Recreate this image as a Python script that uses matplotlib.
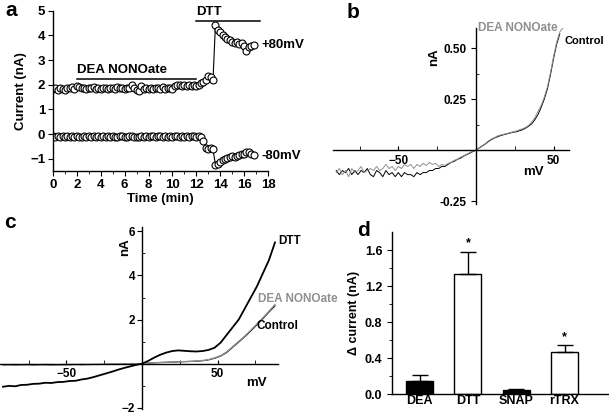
import numpy as np
import matplotlib
matplotlib.use("Agg")
import matplotlib.pyplot as plt
from matplotlib.ticker import FixedLocator

plt.rcParams['font.family'] = ['Liberation Sans', 'DejaVu Sans']
plt.rcParams['font.weight'] = 'bold'
plt.rcParams['axes.linewidth'] = 1.0

# ---- panel a: current vs time (sampled every 0.2 min) ----
dt_min = 0.2
pos80 = [1.82, 1.86, 1.80, 1.88, 1.84, 1.79, 1.87, 1.85, 1.90, 1.83,
         1.95, 1.92, 1.86, 1.88, 1.82, 1.87, 1.85, 1.90, 1.84, 1.86,
         1.83, 1.88, 1.85, 1.82, 1.87, 1.86, 1.84, 1.89, 1.85, 1.87,
         1.83, 1.86, 1.88, 1.98, 1.85, 1.80, 1.75, 1.95, 1.82, 1.86,
         1.84, 1.88, 1.83, 1.87, 1.85, 1.82, 1.89, 1.84, 1.88, 1.86,
         1.83, 1.95, 1.97, 2.00, 1.93, 1.98, 1.95, 2.00, 1.96, 1.99,
         1.95, 2.00, 2.05, 2.10, 2.20, 2.35, 2.30, 2.20,
         4.42, 4.22, 4.12, 4.02, 3.95, 3.86, 3.80, 3.75, 3.70, 3.72,
         3.66, 3.70, 3.58, 3.35, 3.52, 3.56, 3.60]
neg80 = [-0.10, -0.12, -0.09, -0.11, -0.10, -0.12, -0.10, -0.11, -0.09, -0.11,
         -0.10, -0.12, -0.11, -0.10, -0.12, -0.09, -0.11, -0.10, -0.12, -0.10,
         -0.11, -0.10, -0.12, -0.09, -0.11, -0.10, -0.12, -0.11, -0.10, -0.09,
         -0.11, -0.12, -0.10, -0.08, -0.11, -0.13, -0.12, -0.09, -0.11, -0.10,
         -0.12, -0.08, -0.10, -0.11, -0.09, -0.10, -0.12, -0.09, -0.11, -0.10,
         -0.12, -0.10, -0.09, -0.11, -0.10, -0.12, -0.10, -0.11, -0.09, -0.10,
         -0.11, -0.10, -0.12, -0.30, -0.55, -0.60, -0.58, -0.62,
         -1.25, -1.20, -1.12, -1.05, -1.00, -0.97, -0.95, -0.90, -0.92, -0.88,
         -0.85, -0.82, -0.80, -0.75, -0.72, -0.80, -0.85]
time_min = np.arange(len(pos80)) * dt_min

# ---- panel b: I-V, DEA NONOate vs control (every 2 mV) ----
v_b_ctrl = np.arange(-90, 55, 2)
i_b_ctrl = [-0.10, -0.12, -0.10, -0.11, -0.09, -0.12, -0.10, -0.12, -0.10, -0.11,
            -0.09, -0.12, -0.13, -0.10, -0.11, -0.13, -0.10, -0.12, -0.11, -0.13,
            -0.11, -0.13, -0.11, -0.12, -0.12, -0.13, -0.11, -0.12, -0.11, -0.11,
            -0.10, -0.10, -0.09, -0.09, -0.08, -0.08, -0.07, -0.06, -0.055, -0.045,
            -0.04, -0.03, -0.022, -0.015, -0.007, 0.0, 0.01, 0.02, 0.03, 0.042,
            0.052, 0.06, 0.066, 0.072, 0.076, 0.08, 0.084, 0.088, 0.09, 0.095,
            0.10, 0.108, 0.118, 0.13, 0.15, 0.175, 0.21, 0.25, 0.30, 0.37,
            0.45, 0.52, 0.57]
v_b_dea = np.arange(-90, 57, 2)
i_b_dea = [-0.11, -0.09, -0.12, -0.10, -0.13, -0.09, -0.11, -0.10, -0.08, -0.11,
           -0.10, -0.09, -0.10, -0.08, -0.10, -0.09, -0.07, -0.09, -0.08, -0.10,
           -0.08, -0.09, -0.07, -0.08, -0.07, -0.09, -0.07, -0.08, -0.065, -0.075,
           -0.06, -0.07, -0.065, -0.08, -0.07, -0.075, -0.065, -0.06, -0.05, -0.045,
           -0.035, -0.028, -0.02, -0.012, -0.005, 0.0, 0.012, 0.022, 0.032, 0.045,
           0.055, 0.062, 0.07, 0.075, 0.078, 0.082, 0.086, 0.09, 0.094, 0.10,
           0.105, 0.112, 0.122, 0.138, 0.16, 0.19, 0.22, 0.26, 0.31, 0.38,
           0.46, 0.53, 0.58, 0.60]

# ---- panel c: I-V with DTT (every 4 mV) ----
v_c = np.arange(-92, 89, 4)
i_c_dtt = [-1.05, -1.01, -1.03, -0.97, -0.96, -0.92, -0.91, -0.87, -0.88, -0.84,
           -0.83, -0.79, -0.78, -0.72, -0.68, -0.61, -0.53, -0.45, -0.37, -0.28,
           -0.20, -0.13, -0.06, 0.00, 0.12, 0.27, 0.40, 0.50, 0.57, 0.60,
           0.58, 0.56, 0.55, 0.57, 0.62, 0.72, 0.95, 1.30, 1.65, 2.00,
           2.50, 3.00, 3.50, 4.10, 4.70, 5.50]
i_c_ctrl = [-0.06, -0.05, -0.06, -0.05, -0.05, -0.06, -0.05, -0.05, -0.06, -0.05,
            -0.05, -0.05, -0.04, -0.05, -0.04, -0.04, -0.04, -0.03, -0.03, -0.03,
            -0.02, -0.02, -0.01, 0.00, 0.02, 0.04, 0.05, 0.06, 0.07, 0.08,
            0.09, 0.10, 0.11, 0.13, 0.17, 0.24, 0.34, 0.50, 0.74, 0.98,
            1.22, 1.48, 1.76, 2.04, 2.34, 2.62]
i_c_dea = [-0.04, -0.05, -0.04, -0.05, -0.04, -0.04, -0.05, -0.04, -0.04, -0.05,
           -0.04, -0.04, -0.04, -0.03, -0.04, -0.03, -0.03, -0.03, -0.02, -0.02,
           -0.02, -0.01, -0.01, 0.00, 0.02, 0.04, 0.05, 0.06, 0.07, 0.08,
           0.09, 0.10, 0.12, 0.14, 0.18, 0.26, 0.36, 0.53, 0.77, 1.01,
           1.25, 1.52, 1.80, 2.08, 2.38, 2.68]

# ---- panel d: delta current ----
groups = ['DEA', 'DTT', 'SNAP', 'rTRX']
delta = [0.14, 1.33, 0.04, 0.47]
delta_err = [0.07, 0.25, 0.02, 0.07]
bar_fill = ['black', 'white', 'black', 'white']
signif = [False, True, False, True]

fig = plt.figure(figsize=(6.09, 4.15), dpi=100)
fs_a = 9.5
fs_iv = 8.5
fs_d = 9


def center_axes(ax):
    ax.spines['left'].set_position(('data', 0))
    ax.spines['bottom'].set_position(('data', 0))
    ax.spines['top'].set_visible(False)
    ax.spines['right'].set_visible(False)
    ax.tick_params(labelsize=fs_iv)


# a
ax = fig.add_axes([0.087, 0.588, 0.353, 0.386])
for series in (pos80, neg80):
    ax.plot(time_min, series, color='black', lw=0.8, marker='o', ms=5,
            mfc='white', mec='black', mew=0.8)
ax.set_xlim(0, 18)
ax.set_ylim(-1.5, 5)
ax.set_xticks(range(0, 19, 2))
ax.xaxis.set_minor_locator(FixedLocator(range(1, 18, 2)))
ax.set_yticks(range(-1, 6))
ax.spines['top'].set_visible(False)
ax.spines['right'].set_visible(False)
ax.tick_params(labelsize=fs_a, length=3.5, pad=2)
ax.tick_params(which='minor', length=2)
ax.set_xlabel('Time (min)', fontsize=fs_a, fontweight='bold', labelpad=2)
ax.set_ylabel('Current (nA)', fontsize=fs_a, fontweight='bold', labelpad=2)
ax.plot([2, 12], [2.25, 2.25], color='black', lw=1.1)
ax.text(2, 2.35, 'DEA NONOate', fontsize=9.5, fontweight='bold', va='bottom')
ax.plot([12, 17.3], [4.6, 4.6], color='black', lw=1.1, clip_on=False)
ax.text(12, 4.7, 'DTT', fontsize=9.5, fontweight='bold', va='bottom')
ax.text(17.5, 3.6, '+80mV', fontsize=9.5, fontweight='bold', va='center')
ax.text(17.5, -0.9, '-80mV', fontsize=9.5, fontweight='bold', va='center')

# b
ax = fig.add_axes([0.547, 0.508, 0.3875, 0.424])
ax.plot(v_b_ctrl, i_b_ctrl, color='black', lw=0.7)
ax.plot(v_b_dea, i_b_dea, color='#909090', lw=0.7)
ax.set_xlim(-92, 60)
ax.set_ylim(-0.265, 0.598)
center_axes(ax)
ax.set_xticks([-50, 50])
ax.xaxis.set_minor_locator(FixedLocator([-75, -25, 25]))
ax.set_yticks([-0.25, 0.25, 0.5])
ax.set_yticklabels(['-0.25', '0.25', '0.50'])
ax.yaxis.set_minor_locator(FixedLocator([0.125, 0.375]))
ax.tick_params(axis='x', which='both', direction='in', length=3)
ax.tick_params(axis='y', length=3.5)
ax.tick_params(axis='y', which='minor', direction='in', length=2)
ax.text(-27, 0.455, 'nA', rotation=90, fontsize=9.5, fontweight='bold',
        ha='center', va='center')
ax.text(37, -0.105, 'mV', fontsize=9.5, fontweight='bold', ha='center', va='center')
ax.text(1, 0.6, 'DEA NONOate', fontsize=8.5, fontweight='bold', color='#909090',
        va='center')
ax.text(57, 0.535, 'Control', fontsize=8, fontweight='bold', va='center')

# c
ax = fig.add_axes([0.0, 0.0145, 0.4565, 0.4395])
ax.plot(v_c, i_c_ctrl, color='black', lw=0.8)
ax.plot(v_c, i_c_dea, color='#909090', lw=1.0)
ax.plot(v_c, i_c_dtt, color='black', lw=1.3)
ax.set_xlim(-94, 90)
ax.set_ylim(-2.06, 6.22)
center_axes(ax)
ax.set_xticks([-50, 50])
ax.xaxis.set_minor_locator(FixedLocator([-75, -25, 25, 75]))
ax.set_yticks([-2, 2, 4, 6])
ax.yaxis.set_minor_locator(FixedLocator([-1, 1, 3, 5]))
ax.tick_params(axis='x', which='both', direction='in', length=3)
ax.tick_params(axis='y', length=3.5, pad=1.5)
ax.tick_params(axis='y', which='minor', direction='in', length=2)
ax.text(-11, 5.3, 'nA', rotation=90, fontsize=9.5, fontweight='bold',
        ha='center', va='center')
ax.text(76, -0.6, 'mV', fontsize=9.5, fontweight='bold', ha='center', va='top')
ax.text(90, 5.55, 'DTT', fontsize=8.5, fontweight='bold', va='center')
ax.text(77, 2.95, 'DEA NONOate', fontsize=8.5, fontweight='bold',
        color='#909090', va='center', clip_on=False)
ax.text(76, 1.7, 'Control', fontsize=8.5, fontweight='bold', va='center')

# d
ax = fig.add_axes([0.6437, 0.0506, 0.3547, 0.390])
xpos = np.arange(len(groups))
ax.bar(xpos, delta, width=0.56, color=bar_fill, edgecolor='black', lw=1.0)
ax.errorbar(xpos, delta, yerr=[np.zeros(len(delta)), delta_err], fmt='none',
            ecolor='black', elinewidth=1.0, capsize=6, capthick=1.0)
for x, d, e, s in zip(xpos, delta, delta_err, signif):
    if s:
        ax.text(x, d + e + 0.03, '*', ha='center', va='bottom', fontsize=9,
                fontweight='bold')
ax.set_xlim(-0.57, 3.9)
ax.set_ylim(0, 1.8)
ax.set_xticks(xpos)
ax.set_xticklabels(groups)
ax.set_yticks([0.0, 0.4, 0.8, 1.2, 1.6])
ax.yaxis.set_minor_locator(FixedLocator([0.2, 0.6, 1.0, 1.4]))
ax.spines['top'].set_visible(False)
ax.spines['right'].set_visible(False)
ax.tick_params(axis='x', length=0, labelsize=fs_d, pad=1)
ax.tick_params(axis='y', labelsize=fs_d, length=3.5)
ax.tick_params(axis='y', which='minor', length=2)
ax.set_ylabel('\u0394 current (nA)', fontsize=fs_d, fontweight='bold', labelpad=3)

# panel letters
for lab, x, y in [('a', 5, 10), ('b', 347, 12), ('c', 4, 222), ('d', 357, 230)]:
    fig.text(x / 609, 1 - y / 415, lab, fontsize=15, fontweight='bold',
             ha='left', va='center')

fig.savefig('out.png', dpi=100)
